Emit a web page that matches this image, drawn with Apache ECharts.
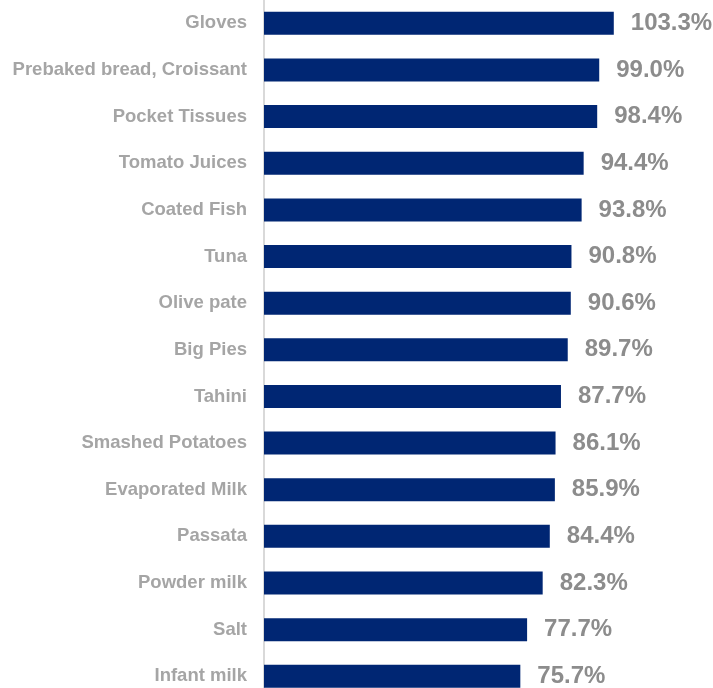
<!DOCTYPE html>
<html>
<head>
<meta charset="utf-8">
<script src="https://cdn.jsdelivr.net/npm/echarts@6/dist/echarts.min.js"></script>
<style>
html,body{margin:0;padding:0;background:#fff;}
#chart{width:713px;height:688px;}
</style>
</head>
<body>
<div id="chart"></div>
<script>
const categories = ["Gloves","Prebaked bread, Croissant","Pocket Tissues","Tomato Juices","Coated Fish","Tuna","Olive pate","Big Pies","Tahini","Smashed Potatoes","Evaporated Milk","Passata","Powder milk","Salt","Infant milk"];
const values = [103.3,99.0,98.4,94.4,93.8,90.8,90.6,89.7,87.7,86.1,85.9,84.4,82.3,77.7,75.7];

const chart = echarts.init(document.getElementById('chart'));
chart.setOption({
  animation: false,
  grid: {left: 264, top: 0, width: 440.2, height: 699.6, containLabel: false, outerBoundsMode: 'none'},
  xAxis: {type: 'value', min: 0, max: 130, show: false, splitLine: {show: false}},
  yAxis: {
    type: 'category', data: categories, inverse: true,
    axisLine: {show: true, lineStyle: {color: '#d9d9d9', width: 2}},
    axisTick: {show: false},
    axisLabel: {color: '#a5a5a5', fontFamily: 'Liberation Sans, Arial, sans-serif', fontWeight: 'bold', fontSize: 18.5, margin: 17}
  },
  series: [{
    type: 'bar', data: values, barWidth: 23,
    itemStyle: {color: '#002673'},
    label: {show: true, position: 'right', distance: 17, formatter: p => p.value.toFixed(1) + '%',
      color: '#8c8c8c', fontFamily: 'Liberation Sans, Arial, sans-serif', fontWeight: 'bold', fontSize: 24}
  }]
});
</script>
</body>
</html>
